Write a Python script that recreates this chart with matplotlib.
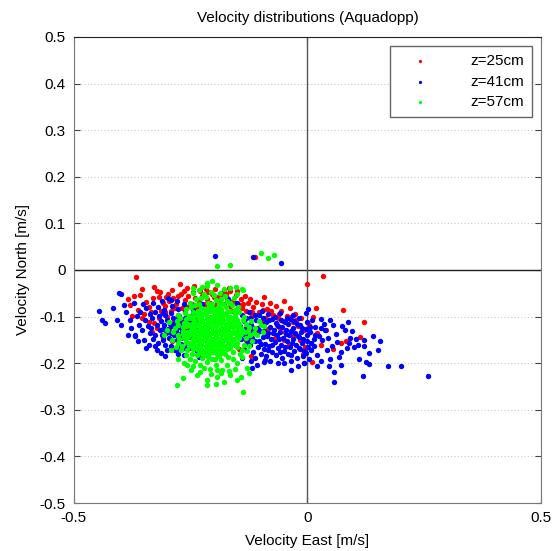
import numpy as np
import matplotlib
matplotlib.use("Agg")
import matplotlib.pyplot as plt

plt.rcParams['font.family'] = ['Liberation Sans', 'DejaVu Sans']

depths = ['z=25cm', 'z=41cm', 'z=57cm']
colors = ['#ff0000', '#0000ff', '#00ff00']

# (east, north) velocity samples, m/s
z25 = np.array([
    (-0.367, -0.016), (-0.355, -0.041), (-0.371, -0.055), (-0.358, -0.054), (-0.380, -0.075),
    (-0.328, -0.036), (-0.323, -0.045), (-0.318, -0.057), (-0.299, -0.052), (-0.273, -0.029),
    (-0.271, -0.051), (-0.314, -0.089), (-0.335, -0.091), (-0.350, -0.095), (-0.332, -0.132),
    (-0.328, -0.114), (-0.243, -0.034), (-0.257, -0.039), (-0.345, -0.068), (-0.340, -0.080),
    (-0.362, -0.085), (-0.310, -0.070), (-0.305, -0.078), (-0.296, -0.066), (-0.288, -0.060),
    (-0.282, -0.072), (-0.292, -0.088), (-0.300, -0.100), (-0.318, -0.104), (-0.286, -0.112),
    (-0.276, -0.096), (-0.268, -0.082), (-0.262, -0.064), (-0.255, -0.055), (-0.248, -0.072),
    (-0.340, -0.112), (-0.322, -0.124), (-0.296, -0.128), (-0.278, -0.140), (-0.262, -0.125),
    (-0.310, -0.145), (-0.270, -0.110), (-0.354, -0.104), (-0.375, -0.098), (-0.385, -0.062),
    (-0.240, -0.060), (-0.232, -0.068), (-0.226, -0.056), (-0.220, -0.074), (-0.214, -0.062),
    (-0.208, -0.070), (-0.200, -0.058), (-0.196, -0.076), (-0.190, -0.066), (-0.184, -0.052),
    (-0.178, -0.072), (-0.172, -0.060), (-0.166, -0.078), (-0.160, -0.066), (-0.154, -0.054),
    (-0.148, -0.074), (-0.142, -0.062), (-0.236, -0.080), (-0.212, -0.048), (-0.198, -0.040),
    (-0.178, -0.044), (-0.168, -0.038), (-0.150, -0.045), (-0.244, -0.092), (-0.188, -0.084),
    (-0.162, -0.088), (-0.140, -0.082), (-0.134, -0.056), (-0.128, -0.070), (-0.122, -0.062),
    (-0.116, -0.080), (-0.110, -0.068), (-0.104, -0.090), (-0.098, -0.074), (-0.092, -0.058),
    (-0.086, -0.084), (-0.080, -0.070), (-0.074, -0.096), (-0.068, -0.078), (-0.062, -0.104),
    (-0.056, -0.088), (-0.050, -0.066), (-0.044, -0.098), (-0.038, -0.082), (-0.032, -0.112),
    (-0.026, -0.094), (-0.020, -0.120), (-0.014, -0.104), (-0.008, -0.128), (-0.120, -0.100),
    (-0.100, -0.112), (-0.084, -0.126), (-0.066, -0.118), (-0.048, -0.132), (-0.030, -0.142),
    (-0.108, -0.136), (-0.070, -0.146), (-0.125, -0.118), (-0.090, -0.102), (-0.058, -0.124),
    (-0.016, -0.150), (-0.040, -0.160), (-0.006, -0.165), (0.034, -0.013), (-0.001, -0.029),
    (0.019, -0.082), (0.077, -0.086), (0.120, -0.112), (0.113, -0.143), (0.083, -0.152),
    (0.072, -0.157), (0.010, -0.197), (0.021, -0.135), (0.012, -0.100), (0.004, -0.118),
    (0.040, -0.128), (0.055, -0.170), (-0.010, -0.180), (0.030, -0.160), (-0.250, -0.118),
    (-0.236, -0.104), (-0.290, -0.152), (-0.132, -0.150), (-0.146, -0.170), (-0.120, -0.185),
    (-0.112, 0.027), (-0.245, -0.048), (-0.230, -0.045), (-0.218, -0.040), (-0.205, -0.052),
    (-0.193, -0.058), (-0.175, -0.052), (-0.165, -0.046), (-0.156, -0.070), (-0.138, -0.072),
    (-0.131, -0.088), (-0.118, -0.090), (-0.095, -0.085), (-0.078, -0.088), (-0.060, -0.094),
    (-0.052, -0.110), (-0.036, -0.100), (-0.024, -0.108), (-0.330, -0.060), (-0.315, -0.048),
    (-0.302, -0.058), (-0.290, -0.042), (-0.278, -0.055), (-0.265, -0.045), (-0.258, -0.080),
    (-0.305, -0.090), (-0.285, -0.082), (-0.050, -0.150), (-0.090, -0.140),
])

z41 = np.array([
    (-0.446, -0.089), (-0.439, -0.107), (-0.433, -0.114), (-0.417, -0.082), (-0.403, -0.050),
    (-0.398, -0.052), (-0.407, -0.107), (-0.398, -0.119), (-0.370, -0.142), (-0.368, -0.139),
    (-0.350, -0.150), (-0.346, -0.168), (-0.323, -0.172), (-0.314, -0.179), (-0.293, -0.164),
    (-0.388, -0.090), (-0.380, -0.108), (-0.372, -0.070), (-0.392, -0.076), (-0.360, -0.118),
    (-0.355, -0.128), (-0.365, -0.098), (-0.345, -0.082), (-0.338, -0.094), (-0.332, -0.104),
    (-0.342, -0.120), (-0.336, -0.136), (-0.330, -0.148), (-0.326, -0.090), (-0.320, -0.080),
    (-0.318, -0.098), (-0.314, -0.110), (-0.322, -0.118), (-0.316, -0.128), (-0.312, -0.140),
    (-0.320, -0.156), (-0.306, -0.086), (-0.304, -0.096), (-0.300, -0.108), (-0.306, -0.118),
    (-0.298, -0.126), (-0.302, -0.136), (-0.296, -0.146), (-0.304, -0.160), (-0.290, -0.078),
    (-0.292, -0.092), (-0.288, -0.102), (-0.284, -0.114), (-0.290, -0.120), (-0.282, -0.130),
    (-0.286, -0.140), (-0.280, -0.150), (-0.284, -0.172), (-0.276, -0.084), (-0.274, -0.098),
    (-0.272, -0.108), (-0.270, -0.118), (-0.268, -0.128), (-0.272, -0.138), (-0.266, -0.146),
    (-0.270, -0.158), (-0.262, -0.090), (-0.258, -0.100), (-0.260, -0.112), (-0.254, -0.122),
    (-0.256, -0.134), (-0.252, -0.144), (-0.258, -0.156), (-0.262, -0.168), (-0.250, -0.076),
    (-0.244, -0.086), (-0.246, -0.098), (-0.240, -0.112), (-0.236, -0.128), (-0.240, -0.150),
    (-0.244, -0.162), (-0.236, -0.174), (-0.330, -0.070), (-0.312, -0.066), (-0.298, -0.060),
    (-0.280, -0.066), (-0.264, -0.072), (-0.352, -0.074), (-0.348, -0.108), (-0.326, -0.162),
    (-0.300, -0.172), (-0.276, -0.180), (-0.293, -0.064), (-0.170, -0.062), (-0.150, -0.070),
    (-0.226, -0.072), (-0.107, -0.204), (-0.090, -0.193), (-0.232, -0.186), (-0.120, -0.196),
    (-0.140, -0.188), (-0.118, -0.210), (-0.282, -0.172),
    (-0.335, -0.125), (-0.327, -0.140), (-0.309, -0.092), (-0.309, -0.126), (-0.295, -0.115),
    (-0.293, -0.135), (-0.279, -0.104), (-0.277, -0.122), (-0.275, -0.165), (-0.263, -0.104),
    (-0.265, -0.136), (-0.251, -0.110), (-0.249, -0.130), (-0.249, -0.168), (-0.310, -0.150),
    (-0.340, -0.160), (-0.358, -0.090), (-0.378, -0.125), (-0.385, -0.140), (-0.362, -0.152),
    (-0.305, -0.185), (-0.265, -0.182),
    (-0.140, -0.096), (-0.136, -0.110), (-0.132, -0.124), (-0.134, -0.140), (-0.130, -0.156),
    (-0.136, -0.170), (-0.126, -0.090), (-0.124, -0.104), (-0.120, -0.118), (-0.122, -0.132),
    (-0.118, -0.146), (-0.122, -0.160), (-0.116, -0.176), (-0.112, -0.188), (-0.112, -0.096),
    (-0.110, -0.108), (-0.106, -0.124), (-0.108, -0.138), (-0.104, -0.152), (-0.106, -0.166),
    (-0.100, -0.180), (-0.098, -0.088), (-0.096, -0.102), (-0.094, -0.116), (-0.092, -0.130),
    (-0.096, -0.144), (-0.090, -0.158), (-0.094, -0.170), (-0.088, -0.184), (-0.084, -0.094),
    (-0.082, -0.108), (-0.080, -0.122), (-0.084, -0.136), (-0.078, -0.148), (-0.082, -0.162),
    (-0.076, -0.176), (-0.080, -0.196), (-0.070, -0.100), (-0.068, -0.114), (-0.072, -0.128),
    (-0.066, -0.140), (-0.070, -0.154), (-0.064, -0.168), (-0.068, -0.182), (-0.062, -0.200),
    (-0.058, -0.092), (-0.056, -0.108), (-0.054, -0.122), (-0.058, -0.134), (-0.052, -0.146),
    (-0.056, -0.160), (-0.050, -0.174), (-0.054, -0.188), (-0.044, -0.102), (-0.042, -0.116),
    (-0.046, -0.128), (-0.040, -0.140), (-0.044, -0.152), (-0.038, -0.166), (-0.042, -0.180),
    (-0.036, -0.196), (-0.030, -0.096), (-0.028, -0.110), (-0.032, -0.124), (-0.026, -0.136),
    (-0.030, -0.148), (-0.024, -0.160), (-0.028, -0.174), (-0.022, -0.188), (-0.036, -0.215),
    (-0.018, -0.104), (-0.016, -0.118), (-0.014, -0.132), (-0.018, -0.144), (-0.012, -0.156),
    (-0.016, -0.170), (-0.010, -0.184), (-0.008, -0.200), (-0.004, -0.092), (-0.002, -0.112),
    (-0.004, -0.126), (0.000, -0.140), (-0.002, -0.152), (0.002, -0.166), (-0.004, -0.178),
    (0.004, -0.190), (0.001, -0.084), (0.010, -0.108), (0.014, -0.148), (0.008, -0.172),
    (-0.131, -0.103), (-0.127, -0.117), (-0.125, -0.147), (-0.117, -0.125), (-0.113, -0.153),
    (-0.103, -0.097), (-0.101, -0.131), (-0.099, -0.159), (-0.089, -0.111), (-0.087, -0.141),
    (-0.085, -0.171), (-0.075, -0.105), (-0.073, -0.135), (-0.075, -0.161), (-0.063, -0.121),
    (-0.061, -0.147), (-0.059, -0.177), (-0.049, -0.111), (-0.047, -0.137), (-0.049, -0.165),
    (-0.037, -0.105), (-0.035, -0.131), (-0.033, -0.157), (-0.035, -0.183), (-0.023, -0.115),
    (-0.021, -0.141), (-0.019, -0.167), (-0.011, -0.125), (-0.009, -0.147), (-0.007, -0.173),
    (0.006, -0.132), (0.008, -0.156), (0.016, -0.122), (0.024, -0.142), (0.036, -0.116),
    (0.044, -0.146), (0.048, -0.190), (0.062, -0.138), (0.074, -0.120), (0.092, -0.145),
    (0.108, -0.160), (0.110, -0.190), (0.028, -0.196), (-0.020, -0.205), (-0.050, -0.200),
    (-0.092, -0.198), (-0.145, -0.120), (-0.142, -0.148),
    (0.029, -0.106), (0.049, -0.107), (0.086, -0.111), (0.055, -0.119), (0.081, -0.129),
    (0.095, -0.131), (0.140, -0.141), (0.155, -0.152), (0.120, -0.150), (0.122, -0.163),
    (0.150, -0.172), (0.131, -0.179), (0.099, -0.166), (0.088, -0.157), (0.125, -0.198),
    (0.131, -0.202), (0.172, -0.207), (0.200, -0.207), (0.258, -0.227), (0.119, -0.227),
    (0.056, -0.241), (0.056, -0.218), (0.071, -0.204), (0.046, -0.207), (0.021, -0.206),
    (-0.008, -0.200), (0.067, -0.186), (0.042, -0.172), (0.013, -0.164), (0.031, -0.150),
    (0.063, -0.154), (0.071, -0.175), (0.053, -0.164), (0.038, -0.129), (0.017, -0.139),
    (0.006, -0.122), (0.028, -0.125), (0.021, -0.182), (0.085, -0.168), (0.103, -0.147),
    (-0.116, 0.027), (-0.197, 0.031), (-0.056, 0.014),
])

z57 = np.array([
    # dense core
    (-0.228, -0.081), (-0.219, -0.084), (-0.211, -0.080), (-0.202, -0.083), (-0.193, -0.081), (-0.184, -0.084),
    (-0.244, -0.091), (-0.235, -0.089), (-0.227, -0.092), (-0.218, -0.090), (-0.209, -0.088), (-0.200, -0.091),
    (-0.191, -0.089), (-0.182, -0.092), (-0.173, -0.090), (-0.165, -0.088),
    (-0.253, -0.098), (-0.244, -0.100), (-0.236, -0.097), (-0.227, -0.099), (-0.218, -0.097), (-0.209, -0.100),
    (-0.200, -0.098), (-0.191, -0.096), (-0.182, -0.099), (-0.174, -0.097), (-0.165, -0.100), (-0.156, -0.098),
    (-0.260, -0.106), (-0.251, -0.104), (-0.242, -0.107), (-0.233, -0.105), (-0.225, -0.108), (-0.216, -0.106),
    (-0.207, -0.104), (-0.198, -0.107), (-0.189, -0.105), (-0.180, -0.108), (-0.171, -0.106), (-0.162, -0.104),
    (-0.150, -0.107),
    (-0.264, -0.114), (-0.255, -0.116), (-0.246, -0.113), (-0.237, -0.115), (-0.229, -0.113), (-0.220, -0.116),
    (-0.211, -0.114), (-0.202, -0.112), (-0.193, -0.115), (-0.184, -0.113), (-0.175, -0.116), (-0.166, -0.114),
    (-0.157, -0.112), (-0.146, -0.115),
    (-0.266, -0.122), (-0.257, -0.120), (-0.248, -0.123), (-0.240, -0.121), (-0.231, -0.124), (-0.222, -0.122),
    (-0.213, -0.120), (-0.204, -0.123), (-0.195, -0.121), (-0.186, -0.124), (-0.177, -0.122), (-0.168, -0.120),
    (-0.159, -0.123), (-0.150, -0.121), (-0.142, -0.124),
    (-0.267, -0.130), (-0.258, -0.132), (-0.250, -0.129), (-0.241, -0.131), (-0.232, -0.128), (-0.223, -0.131),
    (-0.214, -0.129), (-0.205, -0.132), (-0.196, -0.130), (-0.187, -0.128), (-0.178, -0.131), (-0.169, -0.129),
    (-0.160, -0.132), (-0.151, -0.130), (-0.141, -0.128),
    (-0.266, -0.138), (-0.257, -0.140), (-0.249, -0.137), (-0.240, -0.139), (-0.231, -0.137), (-0.222, -0.140),
    (-0.213, -0.138), (-0.204, -0.136), (-0.195, -0.139), (-0.186, -0.137), (-0.177, -0.140), (-0.168, -0.138),
    (-0.159, -0.136), (-0.150, -0.139), (-0.142, -0.137),
    (-0.264, -0.146), (-0.255, -0.144), (-0.246, -0.147), (-0.237, -0.145), (-0.229, -0.148), (-0.220, -0.146),
    (-0.211, -0.144), (-0.202, -0.147), (-0.193, -0.145), (-0.184, -0.148), (-0.175, -0.146), (-0.166, -0.144),
    (-0.157, -0.147), (-0.146, -0.145),
    (-0.260, -0.154), (-0.251, -0.156), (-0.242, -0.153), (-0.233, -0.155), (-0.225, -0.152), (-0.216, -0.155),
    (-0.207, -0.153), (-0.198, -0.156), (-0.189, -0.154), (-0.180, -0.152), (-0.171, -0.155), (-0.162, -0.153),
    (-0.151, -0.156),
    (-0.253, -0.162), (-0.244, -0.160), (-0.236, -0.163), (-0.227, -0.161), (-0.218, -0.164), (-0.209, -0.162),
    (-0.200, -0.160), (-0.191, -0.163), (-0.182, -0.161), (-0.174, -0.164), (-0.165, -0.162), (-0.156, -0.160),
    (-0.244, -0.170), (-0.235, -0.172), (-0.227, -0.169), (-0.218, -0.171), (-0.209, -0.168), (-0.200, -0.171),
    (-0.191, -0.169), (-0.182, -0.172), (-0.173, -0.170), (-0.165, -0.168),
    (-0.228, -0.178), (-0.219, -0.176), (-0.211, -0.179), (-0.202, -0.177), (-0.193, -0.180), (-0.184, -0.178),
    # spread around the core
    (-0.204, -0.023), (-0.194, -0.032), (-0.214, -0.034), (-0.165, -0.039), (-0.140, -0.041), (-0.232, -0.043),
    (-0.246, -0.039), (-0.214, -0.027), (-0.154, -0.036), (-0.137, -0.043), (-0.222, -0.052), (-0.206, -0.048),
    (-0.188, -0.050), (-0.176, -0.056), (-0.158, -0.060), (-0.238, -0.062), (-0.252, -0.070), (-0.196, -0.064),
    (-0.212, -0.070), (-0.180, -0.072), (-0.166, -0.070), (-0.148, -0.080), (-0.240, -0.076), (-0.260, -0.084),
    (-0.146, -0.090), (-0.100, 0.036), (-0.085, 0.025), (-0.072, 0.033), (-0.194, 0.009), (-0.166, 0.011),
    (-0.276, -0.096), (-0.280, -0.110), (-0.300, -0.129), (-0.284, -0.124), (-0.278, -0.140), (-0.290, -0.150),
    (-0.276, -0.156), (-0.282, -0.166), (-0.293, -0.172), (-0.270, -0.172), (-0.136, -0.100), (-0.132, -0.116),
    (-0.128, -0.130), (-0.132, -0.146), (-0.136, -0.160), (-0.120, -0.110), (-0.112, -0.124), (-0.100, -0.118),
    (-0.108, -0.140), (-0.140, -0.172), (-0.126, -0.164), (-0.096, -0.132), (-0.250, -0.215), (-0.229, -0.218),
    (-0.214, -0.236), (-0.193, -0.229), (-0.179, -0.240), (-0.165, -0.225), (-0.143, -0.229), (-0.125, -0.222),
    (-0.129, -0.211), (-0.278, -0.190), (-0.280, -0.247), (-0.266, -0.232), (-0.137, -0.261), (-0.260, -0.182),
    (-0.252, -0.190), (-0.240, -0.196), (-0.226, -0.188), (-0.216, -0.198), (-0.204, -0.190), (-0.196, -0.204),
    (-0.184, -0.194), (-0.172, -0.204), (-0.160, -0.190), (-0.150, -0.200), (-0.140, -0.186), (-0.244, -0.206),
    (-0.208, -0.212), (-0.182, -0.214), (-0.156, -0.212), (-0.230, -0.204), (-0.264, -0.200), (-0.170, -0.186),
    (-0.190, -0.184), (-0.220, -0.182), (-0.248, -0.180),
    (-0.228, -0.060), (-0.218, -0.058), (-0.200, -0.054), (-0.186, -0.062), (-0.172, -0.066), (-0.162, -0.076),
    (-0.250, -0.080), (-0.232, -0.072), (-0.205, -0.072), (-0.190, -0.074), (-0.174, -0.080), (-0.155, -0.086),
    (-0.178, -0.040), (-0.226, -0.036), (-0.150, -0.052), (-0.262, -0.092), (-0.156, -0.092), (-0.244, -0.050),
    (-0.138, -0.108), (-0.126, -0.122), (-0.134, -0.134), (-0.124, -0.140), (-0.118, -0.152), (-0.130, -0.174),
    (-0.115, -0.135), (-0.104, -0.110), (-0.092, -0.120), (-0.144, -0.180), (-0.272, -0.104), (-0.276, -0.118),
    (-0.288, -0.134), (-0.274, -0.148), (-0.268, -0.162), (-0.258, -0.172), (-0.296, -0.112), (-0.306, -0.140),
    (-0.236, -0.182), (-0.212, -0.186), (-0.198, -0.190), (-0.176, -0.180), (-0.160, -0.176), (-0.150, -0.166),
    (-0.236, -0.226), (-0.206, -0.224), (-0.186, -0.222), (-0.168, -0.216), (-0.222, -0.210), (-0.194, -0.214),
    (-0.258, -0.204), (-0.150, -0.236), (-0.214, -0.246), (-0.196, -0.244),
])

yticks = [-0.5, -0.4, -0.3, -0.2, -0.1, 0, 0.1, 0.2, 0.3, 0.4, 0.5]
xticks = [-0.5, 0, 0.5]

fig = plt.figure(figsize=(5.55, 5.51), dpi=100)
ax = fig.add_axes([0.133, 0.087, 0.842, 0.846])

for data, c, lab in zip([z25, z41, z57], colors, depths):
    ax.scatter(data[:, 0], data[:, 1], s=15, c=c, linewidths=0, label=lab, zorder=3)

ax.axhline(0, color='#222222', lw=1.0, zorder=2)
ax.axvline(0, color='#555555', lw=1.0, zorder=2)

ax.set_xlim(-0.5, 0.5)
ax.set_ylim(-0.5, 0.5)
ax.set_xticks(xticks)
ax.set_xticklabels(['-0.5', '0', '0.5'])
ax.set_yticks(yticks)
ax.set_yticklabels(['%g' % v for v in yticks])
ax.yaxis.grid(True, linestyle=(0, (1, 2)), color='#c8c8c8', lw=0.8, zorder=1)
ax.tick_params(direction='in', length=4, labelsize=11, pad=6, top=True, right=True,
               colors='#444444', labelcolor='black')
for side in ['left', 'bottom', 'right']:
    ax.spines[side].set_color('#777777')
ax.spines['top'].set_color('#222222')

ax.set_xlabel('Velocity East [m/s]', fontsize=11, labelpad=6)
ax.set_ylabel('Velocity North [m/s]', fontsize=11, labelpad=7)
ax.set_title('Velocity distributions (Aquadopp)', fontsize=11, pad=11)

leg = ax.legend(loc='upper right', fontsize=11, markerscale=0.6, fancybox=False, framealpha=1,
                edgecolor='#666666', borderpad=0.5, labelspacing=0.45, handlelength=3.0,
                handletextpad=1.8, borderaxespad=0.6)
leg.get_frame().set_linewidth(1.0)

fig.savefig('out.png', dpi=100)
